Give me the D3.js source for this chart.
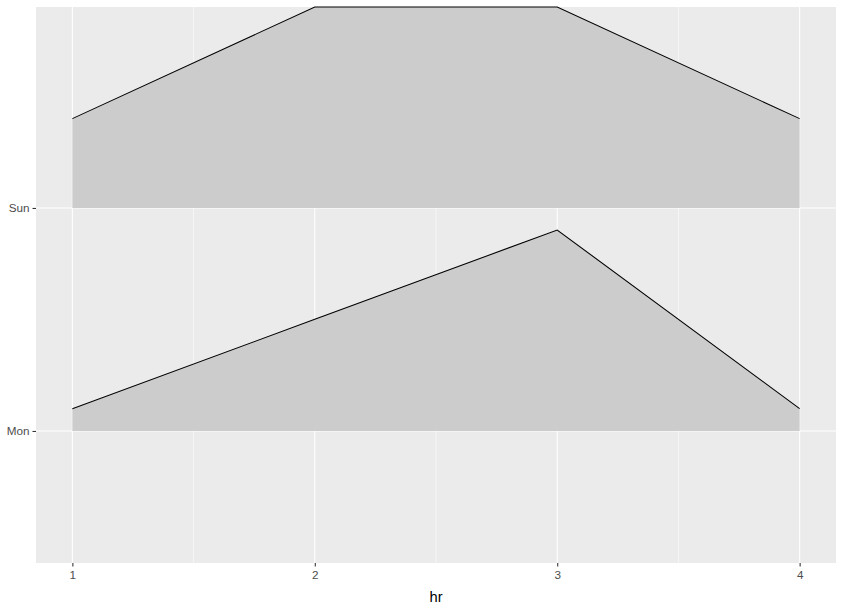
<!DOCTYPE html>
<html><head><meta charset="utf-8">
<script src="https://cdn.jsdelivr.net/npm/d3@7"></script>
<style>body{margin:0;background:#fff}text{font-family:"Liberation Sans",Arial,sans-serif}</style>
</head><body><svg id="c" width="844" height="608"></svg>
<script>
const hours = [1, 2, 3, 4];
const days = ["Mon", "Sun"];
const sunValues = [4, 9, 9, 4];
const monValues = [1, 5, 9, 1];
const xTicks = [1, 2, 3, 4];
const xMinor = [1.5, 2.5, 3.5];

const series = [
  {day: "Sun", values: sunValues},
  {day: "Mon", values: monValues}
];
const pL = 36, pR = 836, pT = 7, pB = 563;
const svg = d3.select("#c");
const x = d3.scaleLinear().domain([0.85, 4.15]).range([pL, pR]);
const dayPos = d3.scalePoint().domain(days).range([1, 2]);
const y = d3.scaleLinear().domain([0.408, 2.901]).range([pB, pT]);
const maxV = d3.max(series, s => d3.max(s.values));
const hScale = d3.scaleLinear().domain([0, maxV]).range([0, 0.901]);

svg.append("rect").attr("x", pL).attr("y", pT).attr("width", pR-pL).attr("height", pB-pT).attr("fill", "#EBEBEB");
const g = svg.append("g");
xMinor.forEach(v => g.append("line").attr("x1", x(v)).attr("x2", x(v)).attr("y1", pT).attr("y2", pB).attr("stroke", "#fff").attr("stroke-width", 0.55));
xTicks.forEach(v => g.append("line").attr("x1", x(v)).attr("x2", x(v)).attr("y1", pT).attr("y2", pB).attr("stroke", "#fff").attr("stroke-width", 1.07));
days.forEach(d => g.append("line").attr("x1", pL).attr("x2", pR).attr("y1", y(dayPos(d))).attr("y2", y(dayPos(d))).attr("stroke", "#fff").attr("stroke-width", 1.07));

series.forEach(s => {
  const base = dayPos(s.day);
  const pts = hours.map((h, i) => [h, s.values[i]]);
  const area = d3.area().x(d => x(d[0])).y0(y(base)).y1(d => y(base + hScale(d[1])));
  const line = d3.line().x(d => x(d[0])).y(d => y(base + hScale(d[1])));
  svg.append("path").attr("d", area(pts)).attr("fill", "#CCCCCC");
  svg.append("path").attr("d", line(pts)).attr("fill", "none").attr("stroke", "#000").attr("stroke-width", 1.07);
});

// x axis
const xa = svg.append("g").attr("transform", `translate(0,${pB})`).call(d3.axisBottom(x).tickValues(xTicks).tickFormat(d3.format("d")).tickSize(3.5).tickPadding(4));
xa.select(".domain").remove();
xa.selectAll("line").attr("stroke", "#333").attr("stroke-width", 1.07);
xa.selectAll("text").attr("fill", "#4D4D4D").style("font-size", "11.7px");
// y axis
const ya = svg.append("g").attr("transform", `translate(${pL},0)`).call(d3.axisLeft(d3.scaleOrdinal().domain(days).range(days.map(d => y(dayPos(d))))).tickSize(3.5).tickPadding(3));
ya.select(".domain").remove();
ya.selectAll("line").attr("stroke", "#333").attr("stroke-width", 1.07);
ya.selectAll("text").attr("fill", "#4D4D4D").style("font-size", "11.7px");

svg.append("text").attr("x", (pL+pR)/2).attr("y", 602).attr("text-anchor", "middle").style("font-size", "14.7px").attr("fill", "#000").text("hr");
</script></body></html>
